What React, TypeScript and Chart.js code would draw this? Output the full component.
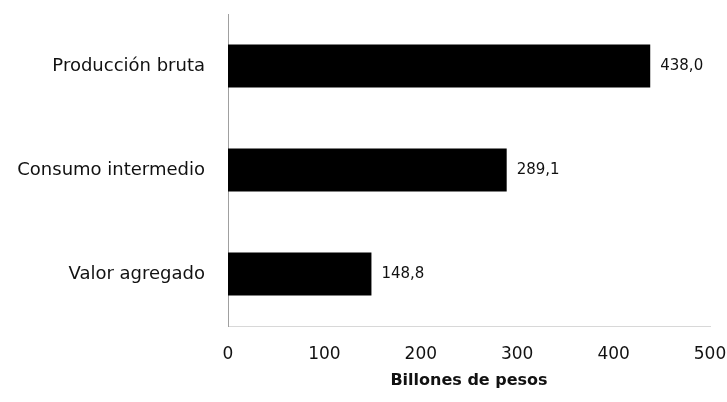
import React, { useEffect, useRef } from "react";
import { Chart, registerables } from "chart.js";

Chart.register(...registerables);

const categories = ["Producción bruta", "Consumo intermedio", "Valor agregado"];
const values = [438.0, 289.1, 148.8];
const valueLabels = ["438,0", "289,1", "148,8"];
const xTicks = [0, 100, 200, 300, 400, 500];
const axisTitle = "Billones de pesos";

const FONT = "'DejaVu Sans', sans-serif";

const valueLabelPlugin = {
  id: "valueLabels",
  afterDatasetsDraw(chart: any) {
    const ctx = chart.ctx;
    const meta = chart.getDatasetMeta(0);
    ctx.save();
    ctx.font = `15px ${FONT}`;
    ctx.fillStyle = "#111111";
    ctx.textAlign = "left";
    ctx.textBaseline = "middle";
    meta.data.forEach((bar: any, i: number) => {
      ctx.fillText(valueLabels[i], bar.x + 10, bar.y);
    });
    ctx.restore();
  },
};

const zeroPadding = (scale: any) => {
  scale.paddingLeft = 0;
  scale.paddingRight = 0;
  scale.paddingTop = 0;
  scale.paddingBottom = 0;
};

export default function App() {
  const ref = useRef<HTMLCanvasElement>(null);
  useEffect(() => {
    if (!ref.current) return;
    const chart = new Chart(ref.current, {
      type: "bar",
      data: {
        labels: categories,
        datasets: [
          {
            data: values,
            backgroundColor: "#000000",
            borderWidth: 0,
            barPercentage: 0.415,
            categoryPercentage: 1,
          },
        ],
      },
      options: {
        indexAxis: "y",
        animation: false,
        responsive: true,
        maintainAspectRatio: false,
        layout: { padding: { left: 0, right: 17, top: 14, bottom: 0 } },
        plugins: {
          legend: { display: false },
          tooltip: { enabled: false },
        },
        scales: {
          x: {
            min: 0,
            max: 500,
            afterBuildTicks: (scale: any) => {
              scale.ticks = xTicks.map((v) => ({ value: v }));
            },
            afterFit: (scale: any) => {
              scale.height = 76;
              zeroPadding(scale);
            },
            grid: { display: false, drawTicks: false },
            border: { display: true, color: "#d8d8d8", width: 1, dash: [4, 6] },
            ticks: {
              padding: 18,
              color: "#111111",
              font: { family: FONT, size: 17 },
            },
            title: {
              display: true,
              text: axisTitle,
              color: "#111111",
              font: { family: FONT, size: 16, weight: "bold" },
              padding: { top: 0, bottom: 12 },
            },
          },
          y: {
            afterFit: (scale: any) => {
              scale.width = 228;
              zeroPadding(scale);
            },
            grid: { display: false, drawTicks: false },
            border: { display: true, color: "#a0a0a0", width: 1, dash: [1, 2] },
            ticks: {
              padding: 23,
              color: "#111111",
              font: { family: FONT, size: 18 },
            },
          },
        },
      },
      plugins: [valueLabelPlugin],
    });
    return () => chart.destroy();
  }, []);

  return (
    <div style={{ position: "absolute", left: 0, top: 0, width: 727, height: 402, background: "#ffffff" }}>
      <canvas ref={ref} />
    </div>
  );
}
